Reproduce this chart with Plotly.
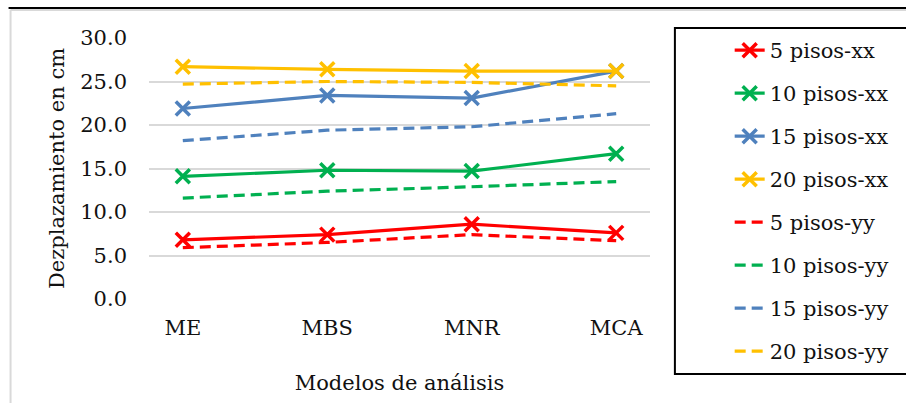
import plotly.graph_objects as go

# Lateral displacement by analysis model and building height
modelos = ["ME", "MBS", "MNR", "MCA"]

pisos5_xx = [6.8, 7.4, 8.6, 7.6]
pisos10_xx = [14.1, 14.8, 14.7, 16.7]
pisos15_xx = [21.9, 23.4, 23.1, 26.2]
pisos20_xx = [26.7, 26.4, 26.2, 26.2]

pisos5_yy = [5.9, 6.5, 7.4, 6.7]
pisos10_yy = [11.6, 12.4, 12.9, 13.5]
pisos15_yy = [18.2, 19.4, 19.8, 21.3]
pisos20_yy = [24.7, 25.0, 24.9, 24.5]

y_ticks = [0, 5, 10, 15, 20, 25, 30]
y_tick_text = ["0.0", "5.0", "10.0", "15.0", "20.0", "25.0", "30.0"]

ROJO, VERDE, AZUL, AMARILLO = "#FF0000", "#00B050", "#4F81BD", "#FFC000"

series = [
    ("5 pisos-xx", pisos5_xx, ROJO, "solid", True),
    ("10 pisos-xx", pisos10_xx, VERDE, "solid", True),
    ("15 pisos-xx", pisos15_xx, AZUL, "solid", True),
    ("20 pisos-xx", pisos20_xx, AMARILLO, "solid", True),
    ("5 pisos-yy", pisos5_yy, ROJO, "11px,6px", False),
    ("10 pisos-yy", pisos10_yy, VERDE, "11px,6px", False),
    ("15 pisos-yy", pisos15_yy, AZUL, "11px,6px", False),
    ("20 pisos-yy", pisos20_yy, AMARILLO, "11px,6px", False),
]

FONT = "DejaVu Serif"
W, H = 906, 403
L, R, T, B = 149, 254, 38, 104
PW, PH = W - L - R, H - T - B


def px_x(px):
    return (px - L) / PW


def px_y(py):
    return (H - B - py) / PH


fig = go.Figure()
for i, (name, vals, color, dash, marks) in enumerate(series):
    fig.add_trace(go.Scatter(
        x=modelos, y=vals, name=name, legendgroup=f"g{i}",
        mode="lines+markers" if marks else "lines",
        line=dict(color=color, width=3.2, dash=dash),
        marker=dict(symbol="x-thin", size=14, line=dict(width=3.5, color=color)),
    ))

fig.update_layout(
    width=W, height=H,
    margin=dict(l=L, r=R, t=T, b=B),
    paper_bgcolor="white", plot_bgcolor="white",
    font=dict(family=FONT, size=21, color="#111111"),
    showlegend=True,
    legend=dict(
        x=px_x(732), y=px_y(30), xanchor="left", yanchor="top",
        borderwidth=0, bgcolor="rgba(0,0,0,0)", maxheight=400,
        tracegroupgap=12.7, font=dict(size=21, family=FONT, color="#111111"),
    ),
    xaxis=dict(
        title=dict(text="Modelos de análisis", font=dict(size=21), standoff=36),
        showgrid=False, zeroline=False, showline=False, ticks="",
        ticklabelstandoff=14, tickfont=dict(size=21),
    ),
    yaxis=dict(
        title=dict(text="Dezplazamiento en cm", font=dict(size=21), standoff=9),
        range=[0, 30], tickvals=y_ticks, ticktext=y_tick_text,
        showgrid=True, gridcolor="#D9D9D9", gridwidth=1.5,
        zeroline=False, showline=False, ticks="",
        ticklabelstandoff=21, tickfont=dict(size=21),
    ),
    shapes=[
        # chart-area frame
        dict(type="line", xref="paper", yref="paper",
             x0=px_x(10), x1=px_x(10), y0=px_y(10), y1=px_y(410),
             line=dict(color="#D9D9D9", width=2)),
        dict(type="line", xref="paper", yref="paper",
             x0=px_x(10), x1=px_x(910), y0=px_y(10), y1=px_y(10),
             line=dict(color="#D9D9D9", width=2)),
        dict(type="line", xref="paper", yref="paper",
             x0=px_x(8), x1=px_x(910), y0=px_y(8), y1=px_y(8),
             line=dict(color="black", width=2)),
        # legend frame
        dict(type="rect", xref="paper", yref="paper",
             x0=px_x(677), x1=px_x(912), y0=px_y(28), y1=px_y(374),
             line=dict(color="black", width=2)),
    ],
)

fig.write_html("out.html")
